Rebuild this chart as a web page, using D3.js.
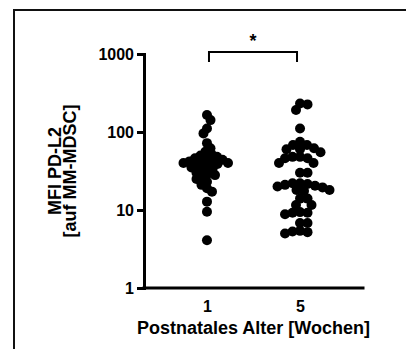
<!DOCTYPE html>
<html>
<head>
<meta charset="utf-8">
<script src="https://cdn.jsdelivr.net/npm/d3@7"></script>
<style>
  html, body { margin: 0; padding: 0; background: #fff; }
  svg { display: block; }
  text { font-family: Arial, "Liberation Sans", sans-serif; font-weight: bold; fill: #000; }
</style>
</head>
<body>
<svg id="chart" width="406" height="349"></svg>
<script>
// Postnatal age groups (weeks)
const categories = ["1", "5"];

// MFI of PD-L2 on MM-MDSC, one value per animal
const week1 = [165, 142, 111, 96, 72, 62, 56, 52, 50, 48, 47, 46, 44, 43, 42, 41, 40, 40, 39, 38,
               36, 35, 33, 32, 30, 29, 28, 26, 25, 23, 21, 19, 17.2, 12.8, 9.5, 4.1];
const week5 = [232, 226, 191, 111, 75, 68, 68, 62, 60, 60, 55, 48, 48, 46, 46, 40, 40, 30, 30,
               22, 22, 21.5, 21, 20.5, 20, 19.5, 18, 18, 17.5, 14, 14, 11.6, 11.6, 9.4, 9.2, 9.2, 8.8,
               6.8, 6.8, 5.4, 5.3, 5.2, 5.0];

const yTicks = [1, 10, 100, 1000];
const yTitle = ["MFI PD-L2", "[auf MM-MDSC]"];
const xTitle = "Postnatales Alter [Wochen]";
const significance = "*";

const svg = d3.select("#chart");

// outer frame of the panel
svg.append("rect")
  .attr("x", 14).attr("y", 10)
  .attr("width", 460).attr("height", 400)
  .attr("fill", "none").attr("stroke", "#111").attr("stroke-width", 2);

const y = d3.scaleLog().domain([1, 1000]).range([288, 54]);
const x = d3.scalePoint().domain(categories).range([144, 363]).padding(0.677);

// y axis
const yAxis = svg.append("g")
  .attr("transform", "translate(144,0)")
  .call(d3.axisLeft(y).tickValues(yTicks).tickFormat(d3.format("d"))
        .tickSizeInner(7).tickSizeOuter(0).tickPadding(3));
yAxis.select(".domain").attr("stroke", "#000").attr("stroke-width", 3).attr("stroke-linecap", "square");
yAxis.selectAll(".tick line").attr("stroke", "#000").attr("stroke-width", 3);

// x axis
const xAxis = svg.append("g")
  .attr("transform", "translate(0,288)")
  .call(d3.axisBottom(x).tickSizeInner(0).tickSizeOuter(0).tickPadding(13));
xAxis.select(".domain").attr("d", `M${144},0H${363}`)
  .attr("stroke", "#000").attr("stroke-width", 3).attr("stroke-linecap", "square");

svg.selectAll(".tick text")
  .attr("font-size", null).attr("font-family", null)
  .style("font-size", "16px");

// axis titles
const yt = svg.append("text")
  .attr("transform", "translate(61,171) rotate(-90)")
  .attr("text-anchor", "middle")
  .style("font-size", "18px");
yt.append("tspan").attr("x", 0).attr("y", 0).text(yTitle[0]);
yt.append("tspan").attr("x", 0).attr("y", 15).text(yTitle[1]);

svg.append("text")
  .attr("x", (144 + 363) / 2).attr("y", 334)
  .attr("text-anchor", "middle")
  .style("font-size", "18px")
  .text(xTitle);

// beeswarm placement: each dot takes the free horizontal offset closest to the centre
function swarm(values, cx, d) {
  const placed = [];
  let flip = 1;
  const sorted = values.map(v => ({ v, py: y(v) })).sort((a, b) => a.py - b.py);
  sorted.forEach(p => {
    const free = ox => placed.every(q => {
      const dx = cx + ox - q.px, dy = p.py - q.py;
      return dx * dx + dy * dy >= d * d - 0.01;
    });
    let ox = 0;
    for (let o = 0; o < 60; o += 0.5) {
      const a = free(flip * o), b = free(-flip * o);
      if (a) { ox = flip * o; break; }
      if (b) { ox = -flip * o; break; }
    }
    if (ox !== 0) flip = -flip;
    p.px = cx + ox;
    placed.push(p);
  });
  return placed;
}

// minimum centre distance between neighbouring dots in each column
const spacing = [6, 7.5];
const groups = [week1, week5];
groups.forEach((vals, i) => {
  const pts = swarm(vals, x(categories[i]), spacing[i]);
  svg.append("g").selectAll("circle").data(pts).join("circle")
    .attr("cx", d => d.px).attr("cy", d => d.py).attr("r", 5).attr("fill", "#000");
});

// significance bracket between the two ages
const x1 = x(categories[0]) + 2, x2 = x(categories[1]) - 3;
svg.append("path")
  .attr("d", `M${x1},62V52H${x2}V62`)
  .attr("fill", "none").attr("stroke", "#000").attr("stroke-width", 2);
svg.append("text")
  .attr("x", (x1 + x2) / 2).attr("y", 47)
  .attr("text-anchor", "middle")
  .style("font-size", "18px")
  .text(significance);
</script>
</body>
</html>
